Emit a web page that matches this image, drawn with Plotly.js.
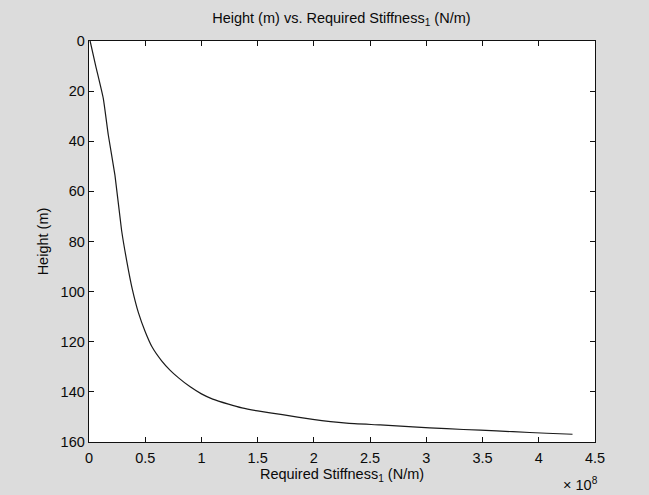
<!DOCTYPE html>
<html>
<head>
<meta charset="utf-8">
<script src="https://cdn.plot.ly/plotly-3.0.1.min.js"></script>
<style>
  html, body { margin: 0; padding: 0; background: #dcdcdc; }
  #chart { width: 649px; height: 495px; }
</style>
</head>
<body>
<div id="chart"></div>
<script>
// Required stiffness, in units of 1e8 N/m
const stiffnessE8 = [0.01, 0.06, 0.127, 0.172, 0.231, 0.29, 0.335, 0.385, 0.44, 0.50,
                     0.56, 0.646, 0.72, 0.794, 0.9, 1.0, 1.1, 1.24, 1.36, 1.5, 1.72,
                     1.99, 2.29, 2.59, 2.88, 3.18, 3.48, 3.77, 4.07, 4.30];
// Height (m) at each stiffness
const heightM = [0, 10, 22.9, 37.6, 53.6, 75.6, 87.6, 99, 108.5, 116,
                 122, 127.6, 131.3, 134.3, 138, 140.8, 142.9, 144.9, 146.4, 147.6, 149.1,
                 151, 152.5, 153.2, 154, 154.7, 155.3, 155.9, 156.5, 156.9];

const xTicks = [0, 0.5, 1, 1.5, 2, 2.5, 3, 3.5, 4, 4.5];
const xTickText = ['0', '0.5', '1', '1.5', '2', '2.5', '3', '3.5', '4', '4.5'];
const yTicks = [0, 20, 40, 60, 80, 100, 120, 140, 160];

const font = { family: 'Liberation Sans, Arial, sans-serif', size: 14.5, color: '#0a0a0a' };

const trace = {
  x: stiffnessE8,
  y: heightM,
  type: 'scatter',
  mode: 'lines',
  line: { color: '#1a1a1a', width: 1.2, shape: 'spline', smoothing: 0.4 },
  hoverinfo: 'skip'
};

const axisCommon = {
  showline: true,
  linecolor: '#111',
  linewidth: 1.3,
  mirror: 'allticks',
  ticks: 'inside',
  ticklen: 5,
  tickcolor: '#111',
  showgrid: false,
  zeroline: false,
  tickfont: font
};

const layout = {
  width: 649,
  height: 495,
  margin: { l: 89, r: 54, t: 41, b: 53 },
  paper_bgcolor: '#dcdcdc',
  plot_bgcolor: '#ffffff',
  font: font,
  showlegend: false,
  title: {
    text: 'Height (m) vs. Required Stiffness<sub>1</sub> (N/m)',
    font: font,
    x: 0.526, xanchor: 'center',
    y: 0.963, yanchor: 'middle'
  },
  xaxis: Object.assign({}, axisCommon, {
    range: [0, 4.5],
    tickmode: 'array',
    tickvals: xTicks,
    ticktext: xTickText,
    ticklabelstandoff: 2,
    title: { text: 'Required Stiffness<sub>1</sub> (N/m)', font: font, standoff: 3 }
  }),
  yaxis: Object.assign({}, axisCommon, {
    range: [160, 0],
    tickmode: 'array',
    tickvals: yTicks,
    title: { text: 'Height (m)', font: font, standoff: 8 }
  }),
  annotations: [{
    xref: 'paper', yref: 'paper',
    x: 0.972, y: -0.105,
    xanchor: 'center', yanchor: 'middle',
    showarrow: false,
    text: '× 10<sup>8</sup>',
    font: font
  }]
};

Plotly.newPlot('chart', [trace], layout, { displayModeBar: false, staticPlot: true });
</script>
</body>
</html>
